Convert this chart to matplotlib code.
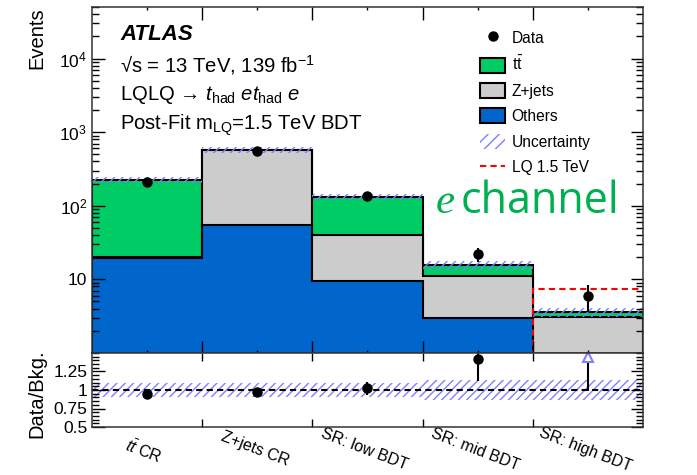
import numpy as np
import matplotlib
matplotlib.use("Agg")
import matplotlib.pyplot as plt
from matplotlib.patches import Patch
from matplotlib.lines import Line2D
from matplotlib.ticker import FixedLocator, FuncFormatter, LogLocator, NullFormatter, MultipleLocator

plt.rcParams['font.family'] = ['Liberation Sans', 'DejaVu Sans']
plt.rcParams['mathtext.fontset'] = 'custom'
plt.rcParams['mathtext.rm'] = 'Liberation Sans'
plt.rcParams['mathtext.it'] = 'Liberation Sans:italic'
plt.rcParams['mathtext.bf'] = 'Liberation Sans:bold'
plt.rcParams['hatch.linewidth'] = 1.0

# Regions (bins) and post-fit yields
regions = [r"$t\bar{t}$ CR", "Z+jets CR", "SR: low BDT", "SR: mid BDT", "SR: high BDT"]
others = np.array([19.2, 54.0, 9.5, 2.97, 0.2])
zjets = np.array([1.0, 512.0, 31.1, 8.1, 2.9])
ttbar = np.array([205.0, 8.0, 90.4, 4.4, 0.5])
data = np.array([213.0, 560.0, 134.0, 22.0, 6.0])
signal = np.array([0.0, 0.0, 0.0, 0.0, 7.4])
rel_unc = np.array([0.09, 0.09, 0.09, 0.14, 0.14])

C_TT = '#00cc66'
C_Z = '#cccccc'
C_OTH = '#0066cc'
C_UNC = '#7f7fff'

edges = np.arange(len(regions) + 1)
centers = edges[:-1] + 0.5
total = others + zjets + ttbar
ymin, ymax = 1.0, 5e4
rmin, rmax = 0.5, 1.5

fig = plt.figure(figsize=(6.97, 4.75), dpi=100)
ax = fig.add_axes([0.132, 0.257, 0.7905, 0.728])
rax = fig.add_axes([0.132, 0.101, 0.7905, 0.156], sharex=ax)

# stacked histograms, drawn top layer first
ax.stairs(total, edges, baseline=0.1, fill=True, facecolor=C_TT, edgecolor='k', lw=1.5)
ax.stairs(others + zjets, edges, baseline=0.1, fill=True, facecolor=C_Z, edgecolor='k', lw=1.5)
ax.stairs(others, edges, baseline=0.1, fill=True, facecolor=C_OTH, edgecolor='k', lw=1.5)

# uncertainty band
ax.bar(edges[:-1], 2 * rel_unc * total, bottom=total * (1 - rel_unc), width=1, align='edge',
       fill=False, hatch='////', edgecolor=C_UNC, lw=0)

# signal
ax.stairs(np.maximum(signal, ymin), edges, baseline=None, color='red', ls=(0, (3, 2)), lw=1.5)

# data
ax.errorbar(centers, data, yerr=np.sqrt(data), fmt='o', color='k', ms=6.5, elinewidth=1.5, capsize=0)

ax.set_yscale('log')
ax.set_ylim(ymin, ymax)
ax.set_xlim(edges[0], edges[-1])
ax.yaxis.set_major_locator(LogLocator(base=10, numticks=10))
ax.yaxis.set_minor_locator(LogLocator(base=10, subs=np.arange(2, 10), numticks=20))
ax.yaxis.set_minor_formatter(NullFormatter())


def log_fmt(v, pos):
    n = int(round(np.log10(v)))
    if n <= 0:
        return ""
    if n == 1:
        return "10"
    return r"$10^{%d}$" % n


ax.yaxis.set_major_formatter(FuncFormatter(log_fmt))
ax.set_ylabel('Events', fontsize=14.5, loc='top')
ax.yaxis.set_label_coords(-0.082, 1.0)

# ratio panel
ratio = data / total
rerr = np.sqrt(data) / total
ok = ratio <= rmax
rax.bar(edges[:-1], 2 * rel_unc, bottom=1 - rel_unc, width=1, align='edge',
        fill=False, hatch='////', edgecolor=C_UNC, lw=0)
rax.axhline(1.0, color='k', ls=(0, (3, 2)), lw=1.5)
rax.errorbar(centers[ok], ratio[ok], yerr=rerr[ok], fmt='o', color='k', ms=6.5, elinewidth=1.5, capsize=0)
up = ~ok
rax.vlines(centers[up], (ratio - rerr)[up], rmax - 0.06, color='k', lw=1.5)
rax.plot(centers[up], np.full(up.sum(), rmax - 0.06), ls='none', marker='^', ms=7,
         mfc='white', mec=C_UNC, mew=1.5)
rax.set_ylim(rmin, rmax)
rax.yaxis.set_major_locator(FixedLocator([0.5, 0.75, 1.0, 1.25]))
rax.yaxis.set_minor_locator(MultipleLocator(0.05))
rax.yaxis.set_major_formatter(FuncFormatter(lambda v, p: ('%g' % v)))
rax.set_ylabel('Data/Bkg.', fontsize=14.5)
rax.yaxis.set_label_coords(-0.082, 0.45)

# ticks
rax.xaxis.set_major_locator(FixedLocator(edges[1:-1]))
rax.xaxis.set_minor_locator(FixedLocator(centers))
rax.xaxis.set_major_formatter(NullFormatter())
rax.xaxis.set_minor_formatter(FuncFormatter(lambda v, p: regions[int(v)]))
plt.setp(ax.get_xticklabels(), visible=False)

for a in (ax, rax):
    a.tick_params(which='both', direction='in', top=True, right=True, labelsize=12.5, width=1)
    a.tick_params(which='major', length=9)
    a.tick_params(which='minor', axis='y', length=5)
    for s in a.spines.values():
        s.set_linewidth(1.1)
        s.set_color('#333333')
rax.tick_params(axis='x', which='major', length=6)
rax.tick_params(axis='x', which='minor', length=0, pad=11, labelsize=11.5)
fig.canvas.draw()
for lab in rax.xaxis.get_minorticklabels():
    lab.set_rotation(-21)
    lab.set_rotation_mode('anchor')
    lab.set_ha('center')
    lab.set_va('top')

# texts
ax.text(0.051, 0.905, 'ATLAS', transform=ax.transAxes, fontsize=16, weight='bold', style='italic')
ax.text(0.051, 0.812, r"√s = 13 TeV, 139 fb$^{-1}$", transform=ax.transAxes, fontsize=14.6)
ax.text(0.051, 0.73, r"LQLQ → $t_{\mathrm{had}}$ $et_{\mathrm{had}}$ $e$",
        transform=ax.transAxes, fontsize=14.6)
ax.text(0.051, 0.645, r"Post-Fit m$_{\mathrm{LQ}}$=1.5 TeV BDT", transform=ax.transAxes, fontsize=14.6)

fig.text(436 / 697, 1 - 213 / 475, 'e', fontsize=31, color='#00b050', family='Liberation Serif',
         style='italic', va='baseline')
fig.text(461 / 697, 1 - 213 / 475, 'channel', fontsize=31, color='#00b050', family='Open Sans',
         va='baseline')

handles = [
    Line2D([], [], ls='none', marker='o', color='k', ms=6.5),
    Patch(facecolor=C_TT, edgecolor='k', lw=1.5),
    Patch(facecolor=C_Z, edgecolor='k', lw=1.5),
    Patch(facecolor=C_OTH, edgecolor='k', lw=1.5),
    Patch(facecolor='none', hatch='///', edgecolor=C_UNC, lw=0),
    Line2D([], [], color='red', ls=(0, (3, 2)), lw=1.5),
]
labels = ['Data', r"$\mathrm{t\bar{t}}$", 'Z+jets', 'Others', 'Uncertainty', 'LQ 1.5 TeV']
ax.legend(handles, labels, loc='upper left', bbox_to_anchor=(0.705, 0.934), frameon=False,
          fontsize=11.2, handlelength=1.6, handleheight=1.1, handletextpad=0.4,
          labelspacing=0.62, borderpad=0, borderaxespad=0)

fig.savefig('out.png', dpi=100)
